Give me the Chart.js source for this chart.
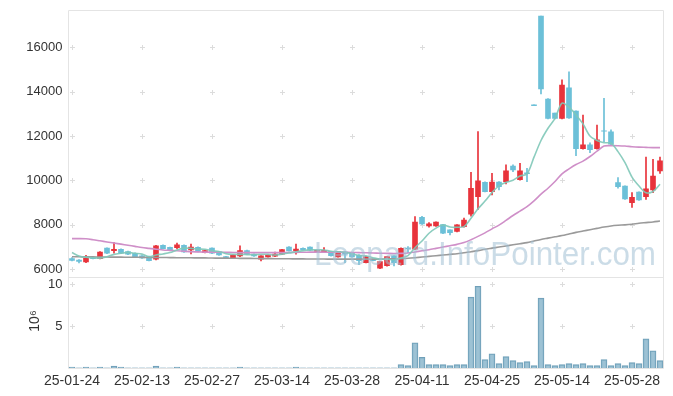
<!DOCTYPE html>
<html><head><meta charset="utf-8">
<script src="https://cdn.jsdelivr.net/npm/chart.js@4.4.1/dist/chart.umd.min.js"></script>
<style>html,body{margin:0;padding:0;background:#fff;}#wrap{position:relative;width:673px;height:396px;}</style>
</head><body><div id="wrap"><canvas id="c" width="673" height="396"></canvas></div>
<script>
const dates = ['25-01-24','25-01-31','25-02-03','25-02-04','25-02-05','25-02-06','25-02-07','25-02-10','25-02-11','25-02-12',
'25-02-13','25-02-14','25-02-17','25-02-18','25-02-19','25-02-20','25-02-21','25-02-24','25-02-25','25-02-26',
'25-02-27','25-02-28','25-03-04','25-03-05','25-03-06','25-03-07','25-03-10','25-03-11','25-03-12','25-03-13',
'25-03-14','25-03-17','25-03-18','25-03-19','25-03-20','25-03-21','25-03-24','25-03-25','25-03-26','25-03-27',
'25-03-28','25-03-31','25-04-01','25-04-02','25-04-03','25-04-04','25-04-07','25-04-08','25-04-09','25-04-10',
'25-04-11','25-04-14','25-04-15','25-04-16','25-04-17','25-04-18','25-04-21','25-04-22','25-04-23','25-04-24',
'25-04-25','25-04-28','25-04-29','25-04-30','25-05-02','25-05-07','25-05-08','25-05-09','25-05-12','25-05-13',
'25-05-14','25-05-15','25-05-16','25-05-19','25-05-20','25-05-21','25-05-22','25-05-23','25-05-26','25-05-27',
'25-05-28','25-05-29','25-05-30','25-06-02','25-06-04'];

const opens = [6480,6410,6330,6500,6480,6950,6840,6900,6800,6720,
6600,6560,6450,7080,6990,6970,7080,6870,6990,6750,
6950,6790,6570,6520,6600,6840,6680,6450,6555,6590,
6680,7000,6830,6940,7000,6800,6770,6790,6555,6770,
6730,6640,6300,6450,6050,6160,6600,6200,6950,6900,
8340,7950,7950,8010,7770,7700,7920,8480,9270,9920,
9500,9930,9950,10650,10030,10340,13410,17410,13670,13030,
12790,14170,13130,11430,11600,11430,12240,12190,9900,9750,
9000,9480,9270,9570,10430];
const highs = [6520,6430,6630,6510,6800,6960,7200,6920,6820,6740,
6620,6580,7080,7100,7000,7180,7100,7130,7010,6860,
6960,6810,6580,6660,7060,6860,6690,6620,6660,6770,
6900,7020,7130,6960,7010,6860,6970,6800,6800,6790,
6740,6660,6580,6460,6350,6580,6610,6960,7020,8370,
8380,8100,8140,8020,7780,8010,8300,10370,12200,9940,
10320,9950,10700,10700,10775,10550,13410,17410,13690,13040,
14530,14890,13140,12940,11700,12490,13700,12280,10130,9760,
9450,9490,11050,10950,11050];
const lows = [6370,6280,6300,6470,6460,6700,6720,6700,6660,6550,
6490,6370,6420,6910,6850,6920,6760,6690,6780,6730,
6700,6620,6490,6500,6570,6660,6580,6370,6540,6570,
6660,6810,6680,6860,6840,6790,6750,6590,6540,6300,
6540,6200,6280,6370,6030,6140,6150,6180,6750,6880,
8020,7900,7930,7600,7545,7680,7900,8390,8700,9480,
9350,9570,9840,10400,10010,9950,13370,13900,12770,12770,
12770,12800,11120,11410,11250,11410,11750,11610,9650,9150,
8790,9100,9150,9450,10320];
const closes = [6400,6350,6490,6480,6770,6720,6900,6720,6680,6570,
6510,6390,7050,6930,6870,7100,6780,7000,6800,6840,
6720,6640,6510,6640,6840,6680,6600,6600,6640,6680,
6880,6830,6910,6880,6860,6850,6850,6610,6790,6680,
6560,6390,6570,6390,6340,6570,6300,6940,6920,8130,
8040,8050,8130,7620,7650,8000,8220,9650,9980,9500,
9930,9720,10430,10470,10430,10310,13370,14120,12790,12790,
14300,12820,11430,11600,11390,11825,12220,11630,9720,9170,
9240,9120,9620,10200,10880];

const ma5 = [6750,6600,6540,6520,6500,6560,6670,6720,6760,6720,
6680,6570,6640,6690,6750,6870,6950,6940,6910,6900,
6830,6800,6700,6670,6670,6660,6650,6670,6670,6640,
6680,6730,6790,6840,6870,6870,6870,6810,6790,6760,
6700,6610,6600,6520,6450,6450,6430,6510,6610,6970,
7270,7620,7850,7990,7900,7890,7920,8300,8720,9070,
9460,9760,9910,10010,10200,10290,11050,11800,12350,12800,
13480,13300,12950,12550,12000,11800,11700,11680,11300,10800,
10150,9750,9450,9500,9830];
const ma20 = [7380,7380,7370,7330,7280,7230,7180,7130,7080,7030,
6980,6940,6900,6870,6850,6830,6810,6790,6780,6770,
6770,6765,6760,6755,6750,6750,6750,6750,6750,6750,
6750,6755,6760,6765,6770,6770,6770,6765,6760,6760,
6755,6750,6740,6730,6720,6715,6710,6715,6730,6780,
6830,6880,6940,7000,7060,7120,7200,7330,7480,7640,
7820,7990,8200,8420,8620,8820,9080,9380,9650,9950,
10300,10520,10720,10870,11080,11320,11550,11570,11565,11550,
11520,11500,11490,11480,11480];
const ma60 = [6560,6560,6555,6555,6550,6550,6545,6545,6540,6540,
6535,6535,6530,6530,6525,6520,6520,6515,6510,6510,
6505,6500,6500,6495,6490,6490,6485,6480,6480,6475,
6470,6470,6465,6465,6460,6460,6460,6455,6455,6455,
6455,6455,6455,6455,6460,6465,6470,6480,6495,6520,
6550,6580,6610,6640,6670,6700,6740,6790,6840,6900,
6950,7000,7050,7100,7150,7200,7270,7340,7400,7460,
7520,7590,7660,7720,7780,7840,7900,7950,7980,8000,
8030,8070,8100,8130,8170];

// volume in millions of shares
const volumes = [0.12,0.01,0.12,0.01,0.12,0.01,0.24,0.12,0.01,0.01,
0.01,0.01,0.24,0.01,0.01,0.12,0.01,0.01,0.01,0.01,
0.01,0.01,0.01,0.01,0.12,0.01,0.01,0.01,0.01,0.01,
0.01,0.01,0.12,0.01,0.01,0.01,0.01,0.01,0.01,0.01,
0.01,0.01,0.01,0.01,0.01,0.01,0.01,0.4,0.28,3.0,
1.26,0.4,0.4,0.4,0.28,0.4,0.4,8.43,9.73,0.99,
1.7,0.52,1.35,0.87,0.64,0.76,0.28,8.31,0.4,0.28,
0.4,0.52,0.4,0.52,0.28,0.28,0.99,0.28,0.52,0.28,
0.64,0.52,3.47,2.05,0.87];

const priceTicks = [6000,8000,10000,12000,14000,16000];
const volTicks = [5,10];
const shownDates = ['25-01-24','25-02-13','25-02-27','25-03-14','25-03-28','25-04-11','25-04-25','25-05-14','25-05-28'];
const volTitle = '10\u2076';
const watermark = 'Leopard.InfoPointer.com';

const UP = '#e8333b', DOWN = '#6cc0d8';
const candleColors = opens.map((o,i)=> closes[i] >= o ? UP : DOWN);
const FONT = "'Liberation Sans', Arial, sans-serif";

const decor = {
  id: 'decor',
  beforeDatasetsDraw(chart) {
    const {ctx, scales:{x, y, yv}} = chart;
    const L = Math.floor(x.left) + 0.5, R = Math.floor(x.right) + 0.5;
    const T = Math.floor(y.top) + 0.5, M = Math.floor(y.bottom) + 0.5, B = Math.floor(yv.bottom) + 0.5;
    ctx.save();
    ctx.strokeStyle = '#e4e4e4'; ctx.lineWidth = 1;
    ctx.beginPath();
    ctx.moveTo(L, T); ctx.lineTo(R, T);
    ctx.moveTo(L, M); ctx.lineTo(R, M);
    ctx.moveTo(L, B); ctx.lineTo(R, B);
    ctx.moveTo(L, T); ctx.lineTo(L, B);
    ctx.moveTo(R, T); ctx.lineTo(R, B);
    ctx.stroke();
    const xs = shownDates.map(d => x.getPixelForValue(dates.indexOf(d)));
    const ys = priceTicks.map(v => y.getPixelForValue(v)).concat(volTicks.map(v => yv.getPixelForValue(v)));
    ctx.strokeStyle = '#dcdcdc';
    ctx.beginPath();
    xs.forEach(px => ys.forEach(py => {
      const a = Math.round(px) + 0.5, b = Math.round(py) + 0.5;
      ctx.moveTo(a - 2.5, b); ctx.lineTo(a + 2.5, b);
      ctx.moveTo(a, b - 2.5); ctx.lineTo(a, b + 2.5);
    }));
    ctx.stroke();
    ctx.restore();
  },
  afterDraw(chart) {
    const {ctx} = chart;
    ctx.save();
    ctx.font = "33px " + FONT;
    const w = ctx.measureText(watermark).width;
    const target = 342;
    ctx.fillStyle = 'rgba(160,192,212,0.55)';
    ctx.textBaseline = 'alphabetic';
    ctx.translate(314, 265);
    ctx.scale(target / w, 1);
    ctx.fillText(watermark, 0, 0);
    ctx.restore();
    ctx.save();
    ctx.font = "14px " + FONT;
    ctx.fillStyle = '#333';
    ctx.textAlign = 'center'; ctx.textBaseline = 'middle';
    ctx.translate(35, 321);
    ctx.rotate(-Math.PI / 2);
    ctx.fillText(volTitle, 0, 0);
    ctx.restore();
  }
};

const noPad = s => { s.paddingTop = 0; s.paddingBottom = 0; s.paddingLeft = 0; s.paddingRight = 0; };

new Chart(document.getElementById('c'), {
  data: {
    labels: dates,
    datasets: [
      { type:'line', data: ma60, borderColor:'#9a9a9a', borderWidth:1.6, pointRadius:0, tension:0.3, yAxisID:'y', order:1 },
      { type:'line', data: ma20, borderColor:'#cf8fc8', borderWidth:1.6, pointRadius:0, tension:0.3, yAxisID:'y', order:1 },
      { type:'line', data: ma5, borderColor:'rgba(128,200,184,0.9)', borderWidth:1.6, pointRadius:0, tension:0.3, yAxisID:'y', order:0 },
      { type:'bar', data: lows.map((l,i)=>[l, highs[i]]), backgroundColor: candleColors, barThickness:1, grouped:false, yAxisID:'y', order:3 },
      { type:'bar', data: opens.map((o,i)=>[o, closes[i]]), backgroundColor: candleColors, barThickness:5, grouped:false, yAxisID:'y', order:2 },
      { type:'bar', data: volumes, backgroundColor:'rgba(140,183,204,0.85)', borderColor:'#6f9fb8', borderWidth:1, barThickness:6, grouped:false, yAxisID:'yv', order:2 }
    ]
  },
  options: {
    responsive:false, animation:false, devicePixelRatio:1,
    layout: { padding: { top:10, right:9.5, left:0, bottom:0 } },
    plugins: { legend:{display:false}, tooltip:{enabled:false} },
    scales: {
      x: { type:'category', offset:true, grid:{display:false, drawTicks:false}, border:{display:false},
        ticks:{ autoSkip:false, maxRotation:0, minRotation:0, padding:5, color:'#333', font:{family:FONT, size:14},
          callback:(v,i)=> shownDates.includes(dates[i]) ? dates[i] : '' },
        afterFit: s => { s.height = 28; noPad(s); } },
      y: { type:'linear', position:'left', stack:'p', stackWeight:267, weight:1, min:5650, max:17680,
        grid:{display:false, drawTicks:false}, border:{display:false},
        ticks:{ padding:6, color:'#333', font:{family:FONT, size:13}, callback: v => String(v) },
        afterBuildTicks: s => { s.ticks = priceTicks.map(v=>({value:v})); },
        afterFit: s => { s.width = 68.5; noPad(s); } },
      yv: { type:'linear', position:'left', stack:'p', stackWeight:91, weight:0, min:0, max:10.83,
        grid:{display:false, drawTicks:false}, border:{display:false},
        ticks:{ padding:6, color:'#333', font:{family:FONT, size:13}, callback: v => String(v) },
        afterBuildTicks: s => { s.ticks = volTicks.map(v=>({value:v})); },
        afterFit: s => { s.width = 68.5; noPad(s); } }
    }
  },
  plugins:[decor]
});
</script></body></html>
